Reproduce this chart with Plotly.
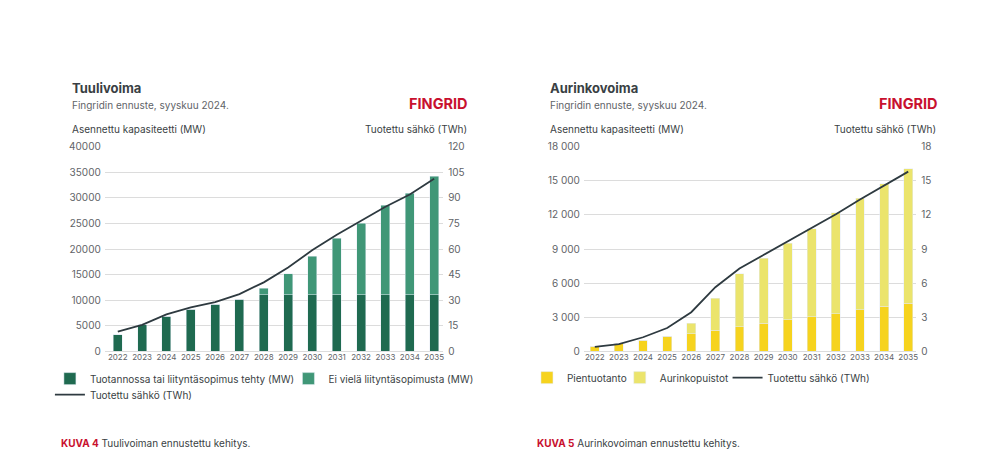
import plotly.graph_objects as go

# ---------------- data ----------------
years = [str(y) for y in range(2022, 2036)]

# Tuulivoima (MW)
wind_contracted = [3300, 5200, 6850, 8200, 9200, 10200, 11100, 11100, 11100, 11100, 11100, 11100, 11100, 11100]
wind_no_contract = [0, 0, 0, 0, 0, 0, 1200, 4100, 7500, 11000, 13900, 17400, 19800, 23100]
wind_twh = [11.7, 15.6, 21.7, 25.8, 28.9, 33.6, 40.5, 49.2, 59.4, 68.4, 76.6, 84.8, 91.9, 101.2]

# Aurinkovoima (MW)
solar_small = [450, 700, 1000, 1350, 1580, 1850, 2170, 2470, 2770, 3070, 3330, 3660, 3990, 4260]
solar_parks = [0, 0, 0, 0, 920, 2820, 4680, 5740, 6750, 7730, 8840, 9820, 10740, 11780]
solar_twh = [0.4, 0.65, 1.25, 2.06, 3.45, 5.65, 7.29, 8.48, 9.67, 10.8, 12.05, 13.36, 14.6, 15.8]

wind_left_ticks = [0, 5000, 10000, 15000, 20000, 25000, 30000, 35000, 40000]
wind_right_ticks = [0, 15, 30, 45, 60, 75, 90, 105, 120]
solar_left_ticks = [0, 3000, 6000, 9000, 12000, 15000, 18000]
solar_right_ticks = [0, 3, 6, 9, 12, 15, 18]

# ---------------- style ----------------
FONT = "Inter"
DARK_GREEN = "#1f6a50"
LIGHT_GREEN = "#409777"
DARK_YELLOW = "#f6d31e"
LIGHT_YELLOW = "#ebe46c"
LINE = "#2e3a40"
RED = "#c8102e"
TXT = "#3a3f44"
GRAY = "#5f6468"
GRID = "#dcdcdc"

W, H = 1000, 462


def px(x):
    return (x - 8) / W


def py(y):
    return 1 - (y - 15) / 448


fig = go.Figure()

# ---- wind ----
fig.add_trace(go.Bar(x=years, y=wind_contracted, name="Tuotannossa tai liityntäsopimus tehty (MW)",
                     marker_color=DARK_GREEN, xaxis="x", yaxis="y", legend="legend", showlegend=True))
fig.add_trace(go.Bar(x=years, y=wind_no_contract, name="Ei vielä liityntäsopimusta (MW)",
                     marker_color=LIGHT_GREEN, xaxis="x", yaxis="y", legend="legend2", showlegend=True))
fig.add_trace(go.Scatter(x=years, y=wind_twh, name="Tuotettu sähkö (TWh)", mode="lines",
                         line=dict(color=LINE, width=1.8), xaxis="x", yaxis="y2", legend="legend3",
                         showlegend=True))

# ---- solar ----
fig.add_trace(go.Bar(x=years, y=solar_small, name="Pientuotanto",
                     marker_color=DARK_YELLOW, xaxis="x2", yaxis="y3", legend="legend4", showlegend=True))
fig.add_trace(go.Bar(x=years, y=solar_parks, name="Aurinkopuistot",
                     marker_color=LIGHT_YELLOW, xaxis="x2", yaxis="y3", legend="legend5", showlegend=True))
fig.add_trace(go.Scatter(x=years, y=solar_twh, name="Tuotettu sähkö (TWh)", mode="lines",
                         line=dict(color=LINE, width=1.8), xaxis="x2", yaxis="y4", legend="legend6",
                         showlegend=True))

ydom = [py(350), py(146)]
tickfont = dict(family=FONT, size=10, color=GRAY)
xtickfont = dict(family=FONT, size=8, color=GRAY)
legfont = dict(family=FONT, size=10, color=TXT)


def leg(x, y):
    return dict(orientation="h", x=px(x), y=py(y), xanchor="left", yanchor="middle",
                font=legfont, itemwidth=30, bgcolor="rgba(0,0,0,0)", visible=True)


fig.update_layout(
    width=W, height=H,
    margin=dict(l=0, r=0, t=0, b=0),
    paper_bgcolor="white", plot_bgcolor="white",
    showlegend=True,
    barmode="stack", bargap=0.63,
    separators=", ",
    font=dict(family=FONT, color=TXT),
    xaxis=dict(domain=[px(105), px(444)], anchor="y", type="category",
               range=[-0.533, 13.37], showgrid=False, showline=False, ticks="",
               tickfont=xtickfont),
    yaxis=dict(domain=ydom, anchor="x", range=[0, 40000], tickvals=wind_left_ticks,
               tickformat="d", showgrid=True, gridcolor=GRID, gridwidth=1, zeroline=True,
               zerolinecolor=GRID, zerolinewidth=1, tickfont=tickfont, ticks="", ticklabelstandoff=3),
    yaxis2=dict(overlaying="y", side="right", anchor="x", range=[0, 120], tickvals=wind_right_ticks,
                showgrid=False, zeroline=False, tickfont=tickfont, ticks="", ticklabelstandoff=4),
    xaxis2=dict(domain=[px(585), px(918)], anchor="y3", type="category",
                range=[-0.455, 13.33], showgrid=False, showline=False, ticks="",
                tickfont=xtickfont),
    yaxis3=dict(domain=ydom, anchor="x2", range=[0, 18000], tickvals=solar_left_ticks,
                tickformat=",d", showgrid=True, gridcolor=GRID, gridwidth=1, zeroline=True,
                zerolinecolor=GRID, zerolinewidth=1, tickfont=tickfont, ticks="", ticklabelstandoff=3),
    yaxis4=dict(overlaying="y3", side="right", anchor="x2", range=[0, 18], tickvals=solar_right_ticks,
                showgrid=False, zeroline=False, tickfont=tickfont, ticks="", ticklabelstandoff=4),
    legend=leg(50, 377),
    legend2=leg(289, 377),
    legend3=leg(50, 393),
    legend4=leg(528, 376),
    legend5=leg(621, 376),
    legend6=leg(729, 376),
)


def ann(x, y, text, size=10, color=TXT, xanchor="left", bold=False):
    if bold:
        text = "<b>" + text + "</b>"
    fig.add_annotation(x=px(x), y=py(y), xref="paper", yref="paper", text=text, showarrow=False,
                       xanchor=xanchor, yanchor="middle", font=dict(family=FONT, size=size, color=color))


# wind header
ann(70, 88, "Tuulivoima", size=13, bold=True)
ann(70, 105, "Fingridin ennuste, syyskuu 2024.", size=10, color=GRAY)
ann(471, 103, "FINGRID", size=14.5, color=RED, xanchor="right", bold=True)
ann(70, 128, "Asennettu kapasiteetti (MW)", size=10, color=TXT)
ann(470, 128, "Tuotettu sähkö (TWh)", size=10, color=TXT, xanchor="right")
ann(59, 441, f"<b><span style='color:{RED}'>KUVA 4</span></b> Tuulivoiman ennustettu kehitys.", size=10)

# solar header
ann(549, 88, "Aurinkovoima", size=13, bold=True)
ann(549, 105, "Fingridin ennuste, syyskuu 2024.", size=10, color=GRAY)
ann(942, 103, "FINGRID", size=14.5, color=RED, xanchor="right", bold=True)
ann(549, 128, "Asennettu kapasiteetti (MW)", size=10, color=TXT)
ann(940, 128, "Tuotettu sähkö (TWh)", size=10, color=TXT, xanchor="right")
ann(536, 441, f"<b><span style='color:{RED}'>KUVA 5</span></b> Aurinkovoiman ennustettu kehitys.", size=10)

fig.write_html("out.html")
